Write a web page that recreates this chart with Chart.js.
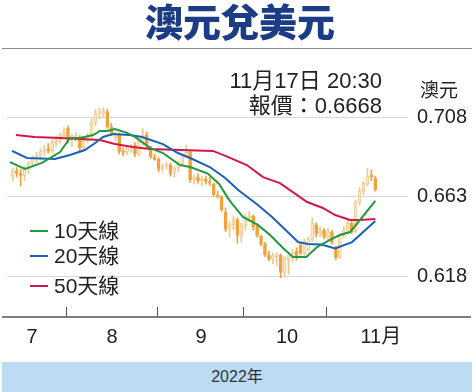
<!DOCTYPE html>
<html>
<head>
<meta charset="utf-8">
<script src="https://cdn.jsdelivr.net/npm/chart.js@4.4.0/dist/chart.umd.min.js"></script>
<style>
  html, body { margin: 0; padding: 0; background: #fff; }
  #wrap { position: relative; width: 474px; height: 392px; overflow: hidden;
          font-family: 'Liberation Sans', 'Noto Sans CJK TC', sans-serif; color: #222; }
  #chart { position: absolute; left: 0; top: 0; }
  #title { position: absolute; left: 0; width: 480px; top: -2px; text-align: center;
           font-family: 'Noto Sans CJK TC', sans-serif; font-weight: 900; font-size: 38px;
           line-height: 44px; color: #1c3c86; }
  #rule { position: absolute; left: 2px; top: 48px; width: 470px; height: 1px; background: #8c8c8c; }
  .note { position: absolute; right: 92px; font-size: 22px; line-height: 25px; white-space: nowrap; }
  #unit { position: absolute; left: 420px; top: 79px; font-size: 19px; line-height: 24px; }
  .leg { position: absolute; left: 30px; font-size: 21px; line-height: 26px; white-space: nowrap; }
  .leg i { display: inline-block; width: 18px; height: 2px; vertical-align: middle; margin-right: 6px; margin-top: -3px; }
  #band { position: absolute; left: 2px; top: 362px; width: 470px; height: 30px; background: #bcdcf3;
          text-align: center; font-size: 16px; line-height: 30px; color: #333; }
</style>
</head>
<body>
<div id="wrap">
  <canvas id="chart" width="474" height="392"></canvas>
  <div id="title">澳元兌美元</div>
  <div id="rule"></div>
  <div class="note" style="top:68px">11月17日 20:30</div>
  <div class="note" style="top:93px">報價：0.6668</div>
  <div id="unit">澳元</div>
  <div id="legend"></div>
  <div id="band">2022年</div>
</div>
<script>
// daily candles, 2022 mid-Jul .. 17 Nov
const opens  = [0.6745,0.6775,0.6760,0.6750,0.6785,0.6815,0.6845,0.6860,0.6885,0.6900,0.6890,0.6935,0.6950,0.6975,
                0.7018,0.6950,0.6965,0.6961,0.6905,0.6950,0.6975,0.7050,0.7100,0.7100,0.7110,0.7025,0.6960,0.6980,0.6885,0.6880,0.6905,0.6920,0.6870,0.6935,0.6980,0.6905,0.6855,
                0.6840,0.6785,0.6800,0.6810,0.6760,0.6790,0.6815,0.6860,0.6880,0.6725,0.6740,0.6720,0.6730,0.6715,0.6700,0.6640,0.6625,0.6540,0.6445,0.6470,0.6500,0.6410,
                0.6465,0.6510,0.6520,0.6460,0.6405,0.6360,0.6300,0.6275,0.6290,0.6300,0.6200,0.6270,0.6290,0.6320,0.6355,0.6310,0.6330,0.6390,0.6470,0.6420,0.6440,
                0.6400,0.6430,0.6340,0.6285,0.6410,0.6440,0.6480,0.6430,0.6595,0.6660,0.6700,0.6750,0.6735];
const highs  = [0.6790,0.6795,0.6785,0.6800,0.6830,0.6860,0.6880,0.6900,0.6920,0.6930,0.6950,0.6975,0.6990,0.7020,
                0.7030,0.6980,0.6990,0.6975,0.6960,0.6990,0.7070,0.7125,0.7130,0.7135,0.7125,0.7045,0.6995,0.6990,0.6905,0.6920,0.6925,0.6935,0.6960,0.7015,0.6995,0.6915,0.6870,
                0.6850,0.6815,0.6825,0.6820,0.6800,0.6830,0.6870,0.6920,0.6890,0.6750,0.6760,0.6745,0.6745,0.6740,0.6705,0.6660,0.6635,0.6565,0.6490,0.6520,0.6510,0.6480,
                0.6530,0.6545,0.6525,0.6475,0.6410,0.6370,0.6320,0.6310,0.6310,0.6305,0.6290,0.6300,0.6330,0.6340,0.6365,0.6390,0.6400,0.6510,0.6480,0.6460,0.6450,
                0.6450,0.6440,0.6350,0.6420,0.6460,0.6500,0.6490,0.6610,0.6680,0.6715,0.6790,0.6780,0.6745];
const lows   = [0.6720,0.6740,0.6690,0.6720,0.6760,0.6800,0.6820,0.6835,0.6860,0.6875,0.6880,0.6915,0.6930,0.6960,
                0.6930,0.6910,0.6940,0.6880,0.6890,0.6935,0.6960,0.7030,0.7070,0.7080,0.7015,0.6975,0.6945,0.6870,0.6860,0.6865,0.6880,0.6855,0.6860,0.6920,0.6905,0.6845,0.6835,
                0.6770,0.6770,0.6785,0.6745,0.6740,0.6770,0.6805,0.6850,0.6710,0.6700,0.6705,0.6690,0.6700,0.6690,0.6630,0.6620,0.6545,0.6430,0.6400,0.6440,0.6365,0.6370,
                0.6440,0.6490,0.6440,0.6400,0.6350,0.6290,0.6265,0.6250,0.6240,0.6170,0.6175,0.6190,0.6260,0.6270,0.6300,0.6290,0.6320,0.6380,0.6400,0.6400,0.6390,
                0.6385,0.6360,0.6272,0.6280,0.6395,0.6420,0.6420,0.6425,0.6580,0.6640,0.6690,0.6720,0.6660];
const closes = [0.6775,0.6760,0.6750,0.6785,0.6815,0.6845,0.6860,0.6885,0.6900,0.6890,0.6935,0.6950,0.6975,0.6995,
                0.6950,0.6965,0.6975,0.6905,0.6950,0.6975,0.7050,0.7100,0.7110,0.7115,0.7025,0.6990,0.6980,0.6885,0.6880,0.6905,0.6910,0.6870,0.6945,0.6980,0.6920,0.6855,0.6840,
                0.6785,0.6800,0.6810,0.6760,0.6790,0.6815,0.6860,0.6880,0.6725,0.6740,0.6720,0.6730,0.6715,0.6705,0.6640,0.6630,0.6555,0.6445,0.6470,0.6500,0.6410,0.6465,
                0.6515,0.6520,0.6460,0.6410,0.6360,0.6300,0.6275,0.6295,0.6300,0.6200,0.6280,0.6295,0.6310,0.6290,0.6310,0.6375,0.6390,0.6480,0.6420,0.6440,0.6400,
                0.6430,0.6370,0.6285,0.6410,0.6440,0.6480,0.6430,0.6595,0.6660,0.6705,0.6745,0.6740,0.6668];

// moving averages, [day index, value] at the line's bends
const ma10 = [[-0.7,0.6825],[3.1,0.6786],[7.4,0.6820],[12,0.6882],[14.5,0.6961],[17,0.6961],[20.4,0.6978],[22.1,0.7001],
              [23.9,0.7001],[25.9,0.7012],[29,0.6990],[31,0.6967],[34.8,0.6905],[38.1,0.6876],[42.4,0.6808],[45,0.6797],
              [49.5,0.6760],[52.4,0.6700],[54.6,0.6621],[55.9,0.6582],[58.4,0.6514],[62.2,0.6469],[65.3,0.6412],[68.3,0.6344],
              [71.1,0.6288],[74.5,0.6288],[77.2,0.6344],[80.5,0.6384],[83,0.6412],[85.6,0.6429],[88.1,0.6497],[92,0.6605]];
const ma20 = [[-0.2,0.6888],[3.6,0.6848],[10.7,0.6842],[14.5,0.6865],[18.3,0.6893],[20.9,0.6933],[22.9,0.6967],[25.4,0.6984],
              [29.7,0.6978],[32.8,0.6967],[38.1,0.6927],[41.9,0.6876],[45,0.6848],[50,0.6797],[53.9,0.6735],[57.2,0.6667],
              [62.2,0.6582],[65.8,0.6514],[72.4,0.6372],[74.9,0.6361],[78.3,0.6358],[81.8,0.6336],[86.1,0.6372],[92,0.6491]];
const ma50 = [[0.8,0.6978],[5.6,0.6967],[12,0.6961],[22.1,0.6950],[25.9,0.6927],[30.5,0.6910],[34.8,0.6899],[42.4,0.6893],
              [50.8,0.6888],[54.4,0.6856],[59.4,0.6808],[63.5,0.6740],[67.8,0.6706],[74.7,0.6599],[78.7,0.6565],[81.8,0.6525],
              [85.6,0.6497],[88.1,0.6497],[92,0.6503]];

const maNames = ['10天線', '20天線', '50天線'];
const maColors = ['#1f9a3c', '#1a62b6', '#d4174a'];

const yTicks = [0.618, 0.663, 0.708];
const monthNames = ['7', '8', '9', '10', '11月'];
const monthTickAt = [4.9, 25.2, 47.8, 69.6, 93.4];   // label centres, in day index
const monthBreaks = [13.5, 36.5, 58.5, 79.5];        // first trading day of Aug..Nov minus half

const upFill = '#fbe9cc', upEdge = '#eec88e', downFill = '#f0a23c';

// legend (html)
const legend = document.getElementById('legend');
[218, 243, 273].forEach((top, k) => {
  const d = document.createElement('div');
  d.className = 'leg';
  d.style.top = top + 'px';
  d.innerHTML = '<i style="background:' + maColors[k] + '"></i>' + maNames[k];
  legend.appendChild(d);
});

const isUp = closes.map((c, i) => c >= opens[i]);

const axisMarks = {
  id: 'axisMarks',
  afterDraw(chart) {
    const { ctx, chartArea, scales } = chart;
    ctx.save();
    ctx.strokeStyle = '#555';
    ctx.lineWidth = 1.5;
    ctx.beginPath();
    ctx.moveTo(2, chartArea.bottom);
    ctx.lineTo(471, chartArea.bottom);
    ctx.stroke();
    ctx.lineWidth = 1;
    ctx.beginPath();
    monthBreaks.forEach(b => {
      const px = Math.round(scales.x.getPixelForValue(b)) + 0.5;
      ctx.moveTo(px, chartArea.bottom);
      ctx.lineTo(px, chartArea.bottom - 10);
    });
    ctx.stroke();
    ctx.restore();
  }
};

Chart.defaults.font.family = "'Liberation Sans', 'Noto Sans CJK TC', sans-serif";
Chart.defaults.color = '#222';

new Chart(document.getElementById('chart'), {
  type: 'bar',
  data: {
    datasets: [
      {
        type: 'line', label: maNames[0], data: ma10.map(p => ({ x: p[0], y: p[1] })),
        borderColor: maColors[0], borderWidth: 2, pointRadius: 0, tension: 0, order: 1
      },
      {
        type: 'line', label: maNames[1], data: ma20.map(p => ({ x: p[0], y: p[1] })),
        borderColor: maColors[1], borderWidth: 2, pointRadius: 0, tension: 0, order: 2
      },
      {
        type: 'line', label: maNames[2], data: ma50.map(p => ({ x: p[0], y: p[1] })),
        borderColor: maColors[2], borderWidth: 2, pointRadius: 0, tension: 0, order: 3
      },
      {
        label: 'wick', data: highs.map((h, i) => ({ x: i, y: [lows[i], h] })),
        backgroundColor: isUp.map(u => u ? upEdge : downFill),
        grouped: false, barPercentage: 1, categoryPercentage: 1, maxBarThickness: 1, order: 5
      },
      {
        label: 'body', data: opens.map((o, i) => ({ x: i, y: [o, closes[i]] })),
        backgroundColor: isUp.map(u => u ? upFill : downFill),
        borderColor: isUp.map(u => u ? upEdge : downFill),
        borderWidth: 1, borderSkipped: false, minBarLength: 1,
        grouped: false, barPercentage: 1, categoryPercentage: 1, maxBarThickness: 3, order: 4
      }
    ]
  },
  options: {
    responsive: false,
    animation: false,
    layout: { padding: { left: 7, right: 0, top: 55, bottom: 35 } },
    plugins: { legend: { display: false }, tooltip: { enabled: false } },
    scales: {
      x: {
        type: 'linear', min: -1.47, max: 100.3, offset: false,
        grid: { display: false, drawTicks: false },
        border: { display: false },
        afterBuildTicks: s => { s.ticks = monthTickAt.map(v => ({ value: v })); },
        afterFit: s => { s.height = 40; },
        ticks: {
          autoSkip: false, maxRotation: 0, padding: 8,
          font: { size: 20 }, color: '#222',
          callback: (v, i) => monthNames[i]
        }
      },
      y: {
        position: 'right', min: 0.5948, max: 0.7431,
        grid: { color: '#d6d6d6', drawTicks: false },
        border: { display: false },
        afterBuildTicks: s => { s.ticks = yTicks.map(v => ({ value: v })); },
        afterFit: s => { s.width = 66; },
        ticks: { padding: 9, font: { size: 20 }, color: '#222', callback: v => v.toFixed(3) }
      }
    }
  },
  plugins: [axisMarks]
});
</script>
</body>
</html>
